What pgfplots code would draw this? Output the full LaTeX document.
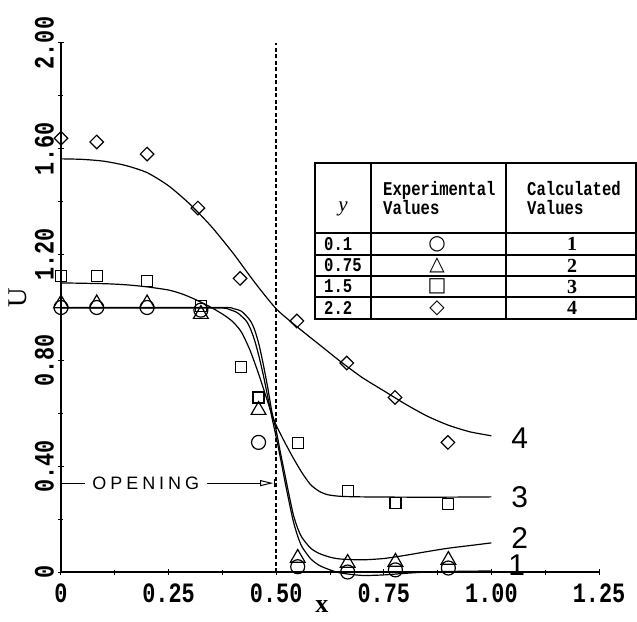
\documentclass[border=0pt]{standalone}
\usepackage{fontspec}
\usepackage{pgfplots}
\pgfplotsset{compat=1.18}
\usetikzlibrary{arrows.meta}
\setmainfont{Liberation Serif}
\newfontfamily\tickfont{Liberation Mono}[FakeStretch=0.78]
\newfontfamily\tabfont{Liberation Mono}[FakeStretch=0.8]
\newfontfamily\lblfont{Liberation Sans}
\newfontfamily\openfont{Liberation Sans}[LetterSpace=22]
\newfontfamily\symfont{DejaVu Sans}
\begin{document}
\begin{tikzpicture}
\useasboundingbox (-61pt,-49pt) rectangle (576pt,572pt);
\begin{axis}[
  scale only axis, width=538pt, height=529pt,
  xmin=0, xmax=1.25, ymin=0, ymax=2,
  axis x line*=bottom, axis y line*=left,
  clip=false,
  axis line style={line width=1.6pt},
  xtick={0,0.25,0.5,0.75,1.0,1.25},
  xticklabels={0,0.25,0.50,0.75,1.00,1.25},
  ytick={0,0.4,0.8,1.2,1.6,2.0},
  yticklabels={0,0.40,0.80,1.20,1.60,2.00},
  minor x tick num=1, minor y tick num=1,
  tick align=center,
  major tick length=6pt, minor tick length=5pt,
  tick style={line width=1pt, black},
  /pgf/number format/assume math mode=true,
  ticklabel style={font=\tickfont\bfseries\fontsize{28}{28}\selectfont},
  xticklabel style={inner sep=9pt},
  yticklabel style={rotate=90, anchor=south, inner sep=4pt},
  xlabel={x}, ylabel={U},
  xlabel style={at={(axis description cs:0.485,-0.066)}, anchor=center, font=\bfseries\fontsize{26}{26}\selectfont},
  ylabel style={at={(axis description cs:-0.08,0.518)}, anchor=center, font=\fontsize{27}{27}\selectfont},
]
% dashed opening line
\addplot[line width=1.8pt, dash pattern=on 4pt off 2.5pt] coordinates {(0.5,0) (0.5,2.0)};

% calculated curves
\addplot[smooth, tension=0.4, line width=1.2pt] coordinates {
(0,1.562)(0.05,1.560)(0.1,1.553)(0.15,1.537)(0.2,1.510)(0.25,1.46)(0.3,1.39)(0.35,1.305)(0.4,1.205)(0.45,1.095)(0.5,0.995)(0.55,0.925)(0.6,0.86)(0.65,0.795)(0.7,0.735)(0.75,0.685)(0.8,0.635)(0.85,0.59)(0.9,0.555)(0.95,0.53)(1.0,0.515)};
\addplot[smooth, tension=0.4, line width=1.2pt] coordinates {
(0,1.093)(0.1,1.09)(0.15,1.086)(0.2,1.078)(0.25,1.066)(0.28,1.052)(0.31,1.032)(0.34,1.008)(0.36,0.99)(0.38,0.97)(0.40,0.945)(0.42,0.905)(0.44,0.835)(0.46,0.745)(0.47,0.695)(0.48,0.645)(0.49,0.595)(0.50,0.555)(0.52,0.49)(0.54,0.43)(0.56,0.375)(0.58,0.33)(0.60,0.305)(0.62,0.292)(0.65,0.286)(0.7,0.284)(0.8,0.283)(0.9,0.283)(1.0,0.284)};
\addplot[smooth, tension=0.4, line width=1.2pt] coordinates {
(0,1.0)(0.2,1.0)(0.38,1.0)(0.40,0.996)(0.42,0.985)(0.44,0.95)(0.45,0.915)(0.46,0.86)(0.47,0.785)(0.48,0.70)(0.49,0.605)(0.50,0.535)(0.51,0.45)(0.52,0.37)(0.53,0.29)(0.54,0.215)(0.55,0.165)(0.56,0.13)(0.58,0.09)(0.60,0.07)(0.625,0.056)(0.65,0.049)(0.7,0.046)(0.75,0.051)(0.8,0.063)(0.85,0.077)(0.9,0.09)(0.95,0.10)(1.0,0.11)};
\addplot[smooth, tension=0.4, line width=1.2pt] coordinates {
(0,0.998)(0.2,0.998)(0.37,0.998)(0.39,0.993)(0.41,0.98)(0.43,0.95)(0.44,0.92)(0.45,0.875)(0.46,0.815)(0.47,0.745)(0.48,0.665)(0.49,0.585)(0.50,0.51)(0.51,0.43)(0.52,0.345)(0.53,0.265)(0.54,0.19)(0.55,0.135)(0.56,0.095)(0.58,0.05)(0.60,0.025)(0.625,0.008)(0.65,-0.004)(0.7,-0.013)(0.75,-0.011)(0.8,-0.005)(0.85,0.0)(0.9,0.002)(0.95,0.003)(1.0,0.004)};

% experimental values
\addplot[only marks, mark=o, mark size=7pt, line width=1.2pt] coordinates {
(0,1.0)(0.083,1.0)(0.2,1.0)(0.325,0.99)(0.459,0.49)(0.55,0.02)(0.666,0.0)(0.777,0.008)(0.9,0.015)};
\addplot[only marks, mark=triangle, mark size=8.5pt, line width=1.2pt] coordinates {
(0,1.015)(0.083,1.015)(0.2,1.015)(0.325,0.975)(0.459,0.612)(0.55,0.053)(0.666,0.034)(0.777,0.038)(0.9,0.045)};
\addplot[only marks, mark=square, mark size=5.5pt, line width=1.2pt] coordinates {
(0,1.12)(0.083,1.12)(0.2,1.10)(0.325,1.005)(0.418,0.775)(0.459,0.66)(0.55,0.488)(0.666,0.306)(0.777,0.26)(0.9,0.257)};
\addplot[only marks, mark=square, mark options={rotate=45}, mark size=4.8pt, line width=1.2pt] coordinates {
(0,1.64)(0.083,1.626)(0.2,1.58)(0.318,1.376)(0.416,1.11)(0.548,0.949)(0.664,0.79)(0.776,0.66)(0.899,0.49)};

% curve labels
\node[font=\lblfont\fontsize{30}{30}\selectfont] at (axis cs:1.066,0.507) {4};
\node[font=\lblfont\fontsize{30}{30}\selectfont] at (axis cs:1.066,0.284) {3};
\node[font=\lblfont\fontsize{30}{30}\selectfont] at (axis cs:1.066,0.129) {2};
\node[font=\lblfont\fontsize{30}{30}\selectfont] at (axis cs:1.059,0.026) {1};

% opening annotation
\draw[line width=1pt] (axis cs:0.002,0.336) -- (axis cs:0.056,0.336);
\node[font=\openfont\fontsize{18}{18}\selectfont, inner sep=0pt] at (axis cs:0.197,0.336) {OPENING};
\draw[line width=1pt, -{Triangle[open, length=13pt, width=6pt]}] (axis cs:0.339,0.336) -- (axis cs:0.493,0.336);
\draw[line width=1pt] (axis cs:0.497,0.32) -- (axis cs:0.497,0.352);
\end{axis}

% legend table
\draw[line width=1.5pt] (254pt,253pt) rectangle (575pt,409pt);
\draw[line width=1.3pt] (310pt,253pt) -- (310pt,409pt);
\draw[line width=1.3pt] (445pt,253pt) -- (445pt,409pt);
\draw[line width=1.3pt] (254pt,339pt) -- (575pt,339pt);
\draw[line width=1.1pt] (254pt,317pt) -- (575pt,317pt);
\draw[line width=1.1pt] (254pt,296pt) -- (575pt,296pt);
\draw[line width=1.1pt] (254pt,275pt) -- (575pt,275pt);
\node[anchor=base, font=\itshape\fontsize{21}{21}\selectfont, inner sep=0pt] at (282pt,360pt) {y};
\node[anchor=base west, font=\tabfont\bfseries\fontsize{19.5}{19.5}\selectfont, inner sep=0pt] at (322pt,376pt) {Experimental};
\node[anchor=base west, font=\tabfont\bfseries\fontsize{19.5}{19.5}\selectfont, inner sep=0pt] at (322pt,357pt) {Values};
\node[anchor=base west, font=\tabfont\bfseries\fontsize{19.5}{19.5}\selectfont, inner sep=0pt] at (466pt,376pt) {Calculated};
\node[anchor=base west, font=\tabfont\bfseries\fontsize{19.5}{19.5}\selectfont, inner sep=0pt] at (466pt,357pt) {Values};
\foreach \lab/\yy in {0.1/328, 0.75/306.5, 1.5/285.5, 2.2/264}
  \node[anchor=west, font=\tabfont\bfseries\fontsize{19.5}{19.5}\selectfont, inner sep=0pt] at (263pt,\yy pt) {\lab};
\foreach \sym/\yy in {○/328, △/306.5, □/285.5, ◇/264}
  \node[font=\symfont\fontsize{20}{20}\selectfont, inner sep=0pt] at (376pt,\yy pt) {\sym};
\foreach \num/\yy in {1/328, 2/306.5, 3/285.5, 4/264}
  \node[font=\bfseries\fontsize{20}{20}\selectfont, inner sep=0pt] at (511pt,\yy pt) {\num};
\end{tikzpicture}
\end{document}
